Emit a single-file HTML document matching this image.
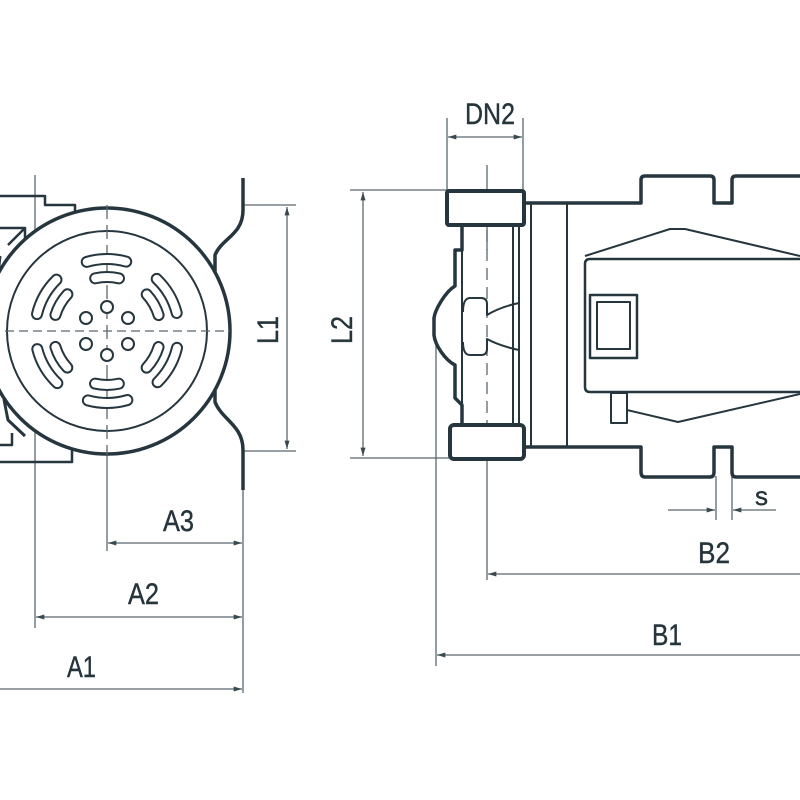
<!DOCTYPE html>
<html><head><meta charset="utf-8"><style>
html,body{margin:0;padding:0;background:#fff}
svg{display:block}
text{font-family:"Liberation Sans",sans-serif;font-size:30px;fill:#26343c;stroke:#26343c;stroke-width:0.4}
</style></head><body>
<svg width="800" height="800" viewBox="0 0 800 800" xmlns="http://www.w3.org/2000/svg">
<defs>
<marker id="a" viewBox="0 0 10 6" refX="10" refY="3" markerWidth="14" markerHeight="5" orient="auto-start-reverse" markerUnits="userSpaceOnUse"><path d="M0,0 L10,3 L0,6 Z" fill="#3a4850"/></marker>
</defs>
<g stroke="#5a6870" stroke-width="1.3" fill="none">
<line x1="35" y1="175" x2="35" y2="628"/>
<line x1="107" y1="455" x2="107" y2="551"/>
<line x1="243" y1="455" x2="243" y2="693"/>
<line x1="243" y1="205" x2="296" y2="205"/>
<line x1="243" y1="451" x2="296" y2="451"/>
<line x1="287" y1="207" x2="287" y2="449" marker-start="url(#a)" marker-end="url(#a)"/>
<line x1="108" y1="543" x2="242" y2="543" marker-start="url(#a)" marker-end="url(#a)"/>
<line x1="36" y1="617" x2="242" y2="617" marker-start="url(#a)" marker-end="url(#a)"/>
<line x1="0" y1="689" x2="242" y2="689" marker-end="url(#a)"/>
<line x1="447" y1="118" x2="447" y2="192"/>
<line x1="523" y1="118" x2="523" y2="192"/>
<line x1="448" y1="137" x2="522" y2="137" marker-start="url(#a)" marker-end="url(#a)"/>
<line x1="350" y1="190" x2="447" y2="190"/>
<line x1="350" y1="458" x2="450" y2="458"/>
<line x1="363" y1="192" x2="363" y2="456" marker-start="url(#a)" marker-end="url(#a)"/>
<line x1="487" y1="165" x2="487" y2="250"/>
<line x1="487" y1="440" x2="487" y2="580"/>
<line x1="487" y1="230" x2="487" y2="440" stroke-dasharray="12 7"/>
<line x1="436" y1="345" x2="436" y2="666"/>
<line x1="488" y1="574" x2="800" y2="574" marker-start="url(#a)"/>
<line x1="437" y1="655" x2="800" y2="655" marker-start="url(#a)"/>
<line x1="716" y1="476" x2="716" y2="520"/>
<line x1="732" y1="476" x2="732" y2="520"/>
<line x1="668" y1="510" x2="715" y2="510" marker-end="url(#a)"/>
<line x1="776" y1="510" x2="733" y2="510" marker-end="url(#a)"/>
</g>
<g stroke="#26363e" fill="none" stroke-linejoin="round">
<path d="M243,178 V210 C243,235 222,238 215,255 V402 C222,420 243,425 243,450 V490" stroke-width="3.5"/>
<path d="M0,196 H45 V205 H75 V222" stroke-width="2.5"/>
<path d="M0,228 H25 V240 M8,245 L25,228" stroke-width="2.5"/>
<path d="M0,445 H12 V433 M0,462 H72 V450" stroke-width="2.5"/>
<path d="M0,256 C-5,300 -5,360 8,420 L25,436" stroke-width="3"/>
<circle cx="107" cy="331" r="123" stroke-width="3.5" fill="#fff"/>
<circle cx="107" cy="331" r="100" stroke-width="2"/>
<line x1="107" y1="205" x2="107" y2="455" stroke="#5a6870" stroke-width="1.3" stroke-dasharray="14 6"/>
<line x1="5" y1="331" x2="230" y2="331" stroke="#5a6870" stroke-width="1.3" stroke-dasharray="9 5"/>
<g transform="translate(107,331)">
<circle r="72" stroke-width="12" stroke-dasharray="40 35.4" stroke-dashoffset="-17" stroke-linecap="round"/>
<circle r="72" stroke-width="8" stroke="#fff" stroke-dasharray="40 35.4" stroke-dashoffset="-17" stroke-linecap="round"/>
<circle r="54" stroke-width="12" stroke-dasharray="24 32.5" stroke-dashoffset="-16.3" stroke-linecap="round"/>
<circle r="54" stroke-width="8" stroke="#fff" stroke-dasharray="24 32.5" stroke-dashoffset="-16.3" stroke-linecap="round"/>
<g stroke-width="2" fill="#fff">
<circle cx="0" cy="-24" r="6"/><circle cx="0" cy="24" r="6"/>
<circle cx="-21" cy="-13" r="6"/><circle cx="21" cy="-13" r="6"/>
<circle cx="-21" cy="13" r="6"/><circle cx="21" cy="13" r="6"/>
</g>
</g>
<rect x="447" y="191" width="77" height="34" rx="2" stroke-width="4" fill="#fff"/>
<rect x="450" y="425" width="74" height="34" rx="4" stroke-width="4" fill="#fff"/>
<path d="M462,225 V250 H455 V286 C445,292 435,310 434,318 V335 C435,345 445,360 455,365 V398 L462,405 V425" stroke-width="3.5"/>
<path d="M462,250 V425 M513,225 V425 M519,225 V425" stroke-width="2"/>
<path d="M463,312 Q463,298 470,298 H481 Q487,298 487,304 V315 Q500,307 519,303" stroke-width="2"/>
<path d="M463,342 Q463,355 470,355 H481 Q487,355 487,349 V339 Q500,346 519,350" stroke-width="2"/>
<path d="M525,203 H641 V180 Q641,176 645,176 H710 Q714,176 714,180 V203 H732 V180 Q732,176 736,176 H800" stroke-width="3.5"/>
<path d="M525,447 H641 V472 Q641,477 645,477 H710 Q714,477 714,472 V447 H732 V472 Q732,477 736,477 H800" stroke-width="3.5"/>
<path d="M531,204 V447 M567,204 V447" stroke-width="2"/>
<path d="M800,259 H590 Q585,259 585,264 V387 Q585,392 590,392 H800" stroke-width="2.5"/>
<path d="M585,256 L670,229 H685 L800,256" stroke-width="2"/>
<path d="M627,410 L678,422 L800,394" stroke-width="2"/>
<rect x="590" y="295" width="47" height="63" stroke-width="2.5"/>
<rect x="597" y="302" width="33" height="47" stroke-width="2"/>
<rect x="611" y="393" width="16" height="30" stroke-width="2"/>
</g>
<text x="465" y="124" textLength="50" lengthAdjust="spacingAndGlyphs">DN2</text>
<text x="163" y="531" textLength="31" lengthAdjust="spacingAndGlyphs">A3</text>
<text x="128" y="604" textLength="31" lengthAdjust="spacingAndGlyphs">A2</text>
<text x="67" y="677" textLength="29" lengthAdjust="spacingAndGlyphs">A1</text>
<text x="698" y="563" textLength="32" lengthAdjust="spacingAndGlyphs">B2</text>
<text x="652" y="645" textLength="30" lengthAdjust="spacingAndGlyphs">B1</text>
<text x="755" y="505" style="font-size:26px" textLength="13" lengthAdjust="spacingAndGlyphs">s</text>
<text transform="translate(278,344) rotate(-90)" textLength="28" lengthAdjust="spacingAndGlyphs">L1</text>
<text transform="translate(352,344) rotate(-90)" textLength="28" lengthAdjust="spacingAndGlyphs">L2</text>
</svg>
</body></html>
